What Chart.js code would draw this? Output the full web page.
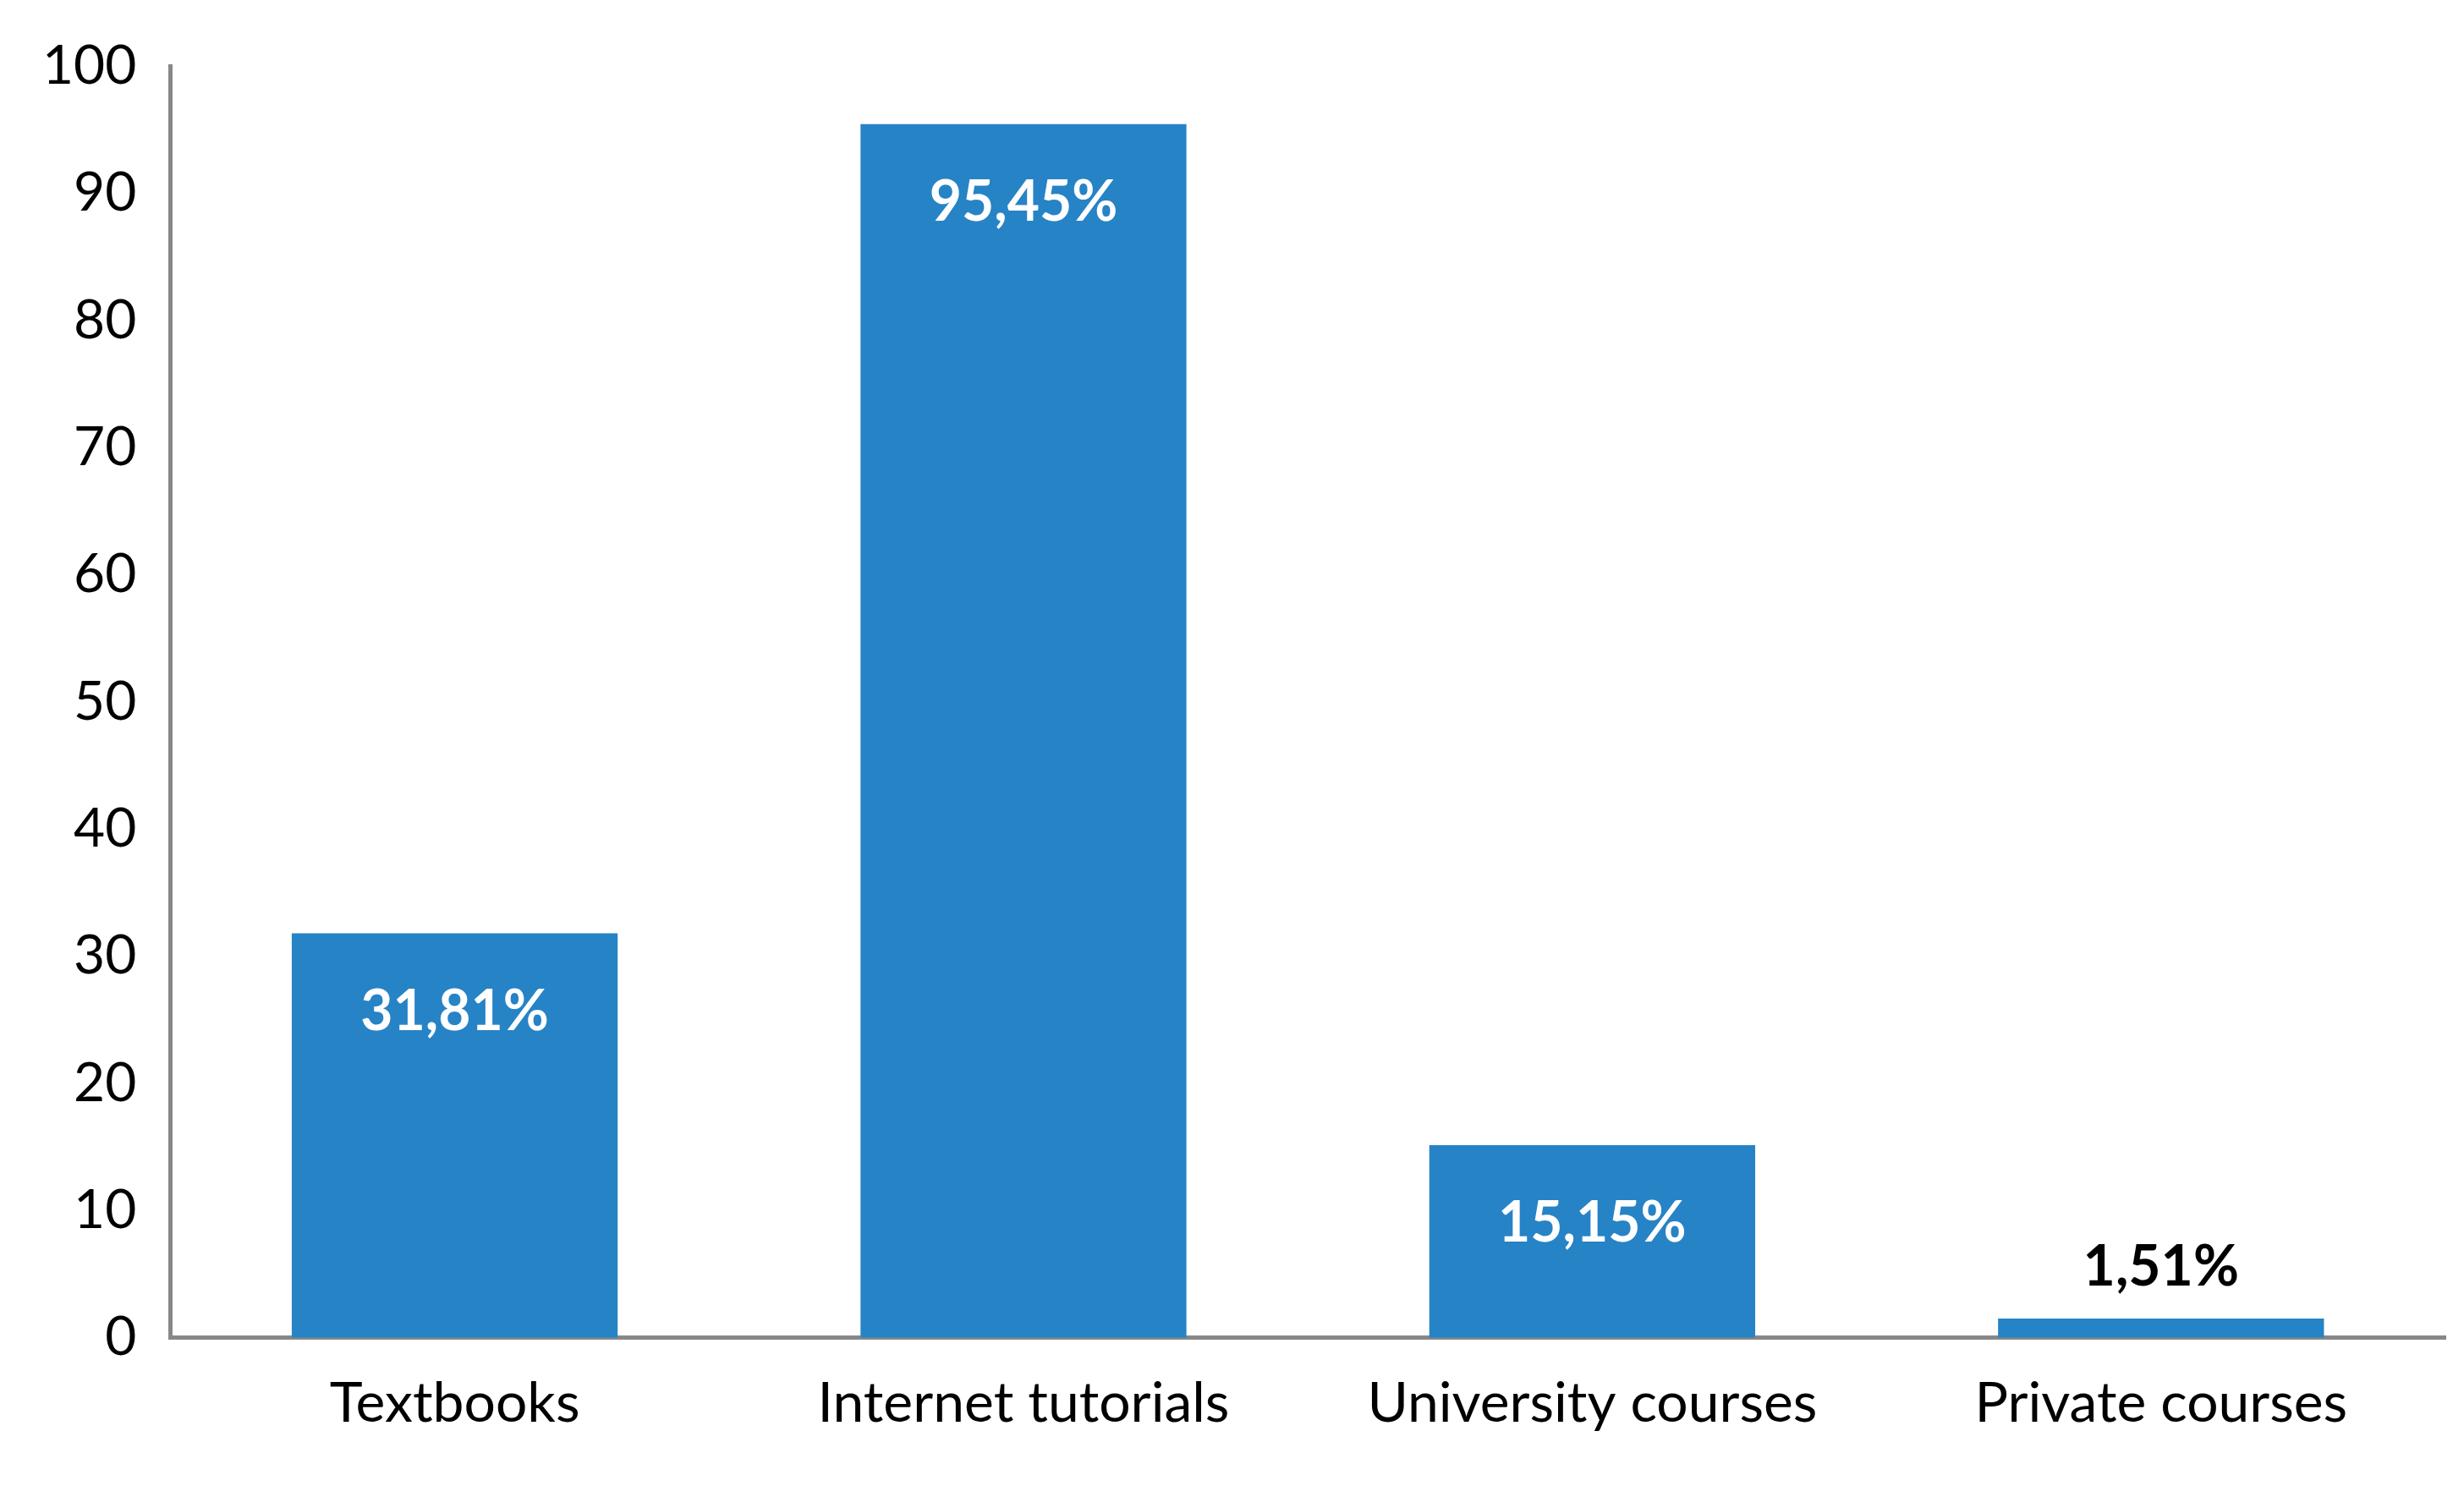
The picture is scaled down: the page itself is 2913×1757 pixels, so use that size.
<!DOCTYPE html>
<html>
<head>
<meta charset="utf-8">
<script src="https://cdn.jsdelivr.net/npm/chart.js@4.4.0/dist/chart.umd.min.js"></script>
<style>
  html, body { margin: 0; padding: 0; background: #fff; }
  #wrap { width: 2913px; height: 1757px; }
</style>
</head>
<body>
<div id="wrap"><canvas id="chart"></canvas></div>
<script>
// Data
const categories = ['Textbooks', 'Internet tutorials', 'University courses', 'Private courses'];
const values = [31.81, 95.45, 15.15, 1.51];
const valueLabels = ['31,81%', '95,45%', '15,15%', '1,51%'];

const fontFamily = 'Lato, "Open Sans", sans-serif';

// Draw value labels inside bars (white) or above small bars (black)
const barLabels = {
  id: 'barLabels',
  afterDatasetsDraw(chart) {
    const ctx = chart.ctx;
    const meta = chart.getDatasetMeta(0);
    ctx.save();
    ctx.font = 'bold 66px ' + fontFamily;
    ctx.textAlign = 'center';
    ctx.textBaseline = 'middle';
    meta.data.forEach((bar, i) => {
      const h = bar.base - bar.y;
      if (h > 150) {
        ctx.fillStyle = '#ffffff';
        ctx.fillText(valueLabels[i], bar.x, bar.y + 93);
      } else {
        ctx.fillStyle = '#000000';
        ctx.fillText(valueLabels[i], bar.x, bar.y - 60);
      }
    });
    ctx.restore();
  }
};

new Chart(document.getElementById('chart'), {
  type: 'bar',
  data: {
    labels: categories,
    datasets: [{
      data: values,
      backgroundColor: '#2683C6',
      categoryPercentage: 0.573,
      barPercentage: 1.0
    }]
  },
  options: {
    responsive: true,
    maintainAspectRatio: false,
    animation: false,
    layout: { padding: { top: 50, right: 22, left: 10, bottom: 20 } },
    plugins: { legend: { display: false }, tooltip: { enabled: false } },
    scales: {
      x: {
        grid: { display: false, drawTicks: false },
        border: { color: '#888888', width: 5 },
        ticks: { color: '#000', font: { size: 66, family: fontFamily }, padding: 38 }
      },
      y: {
        min: 0, max: 100,
        grid: { display: false, drawTicks: false },
        border: { color: '#888888', width: 5 },
        ticks: { stepSize: 10, color: '#000', font: { size: 64, family: fontFamily }, padding: 40 }
      }
    }
  },
  plugins: [barLabels]
});
</script>
</body>
</html>
